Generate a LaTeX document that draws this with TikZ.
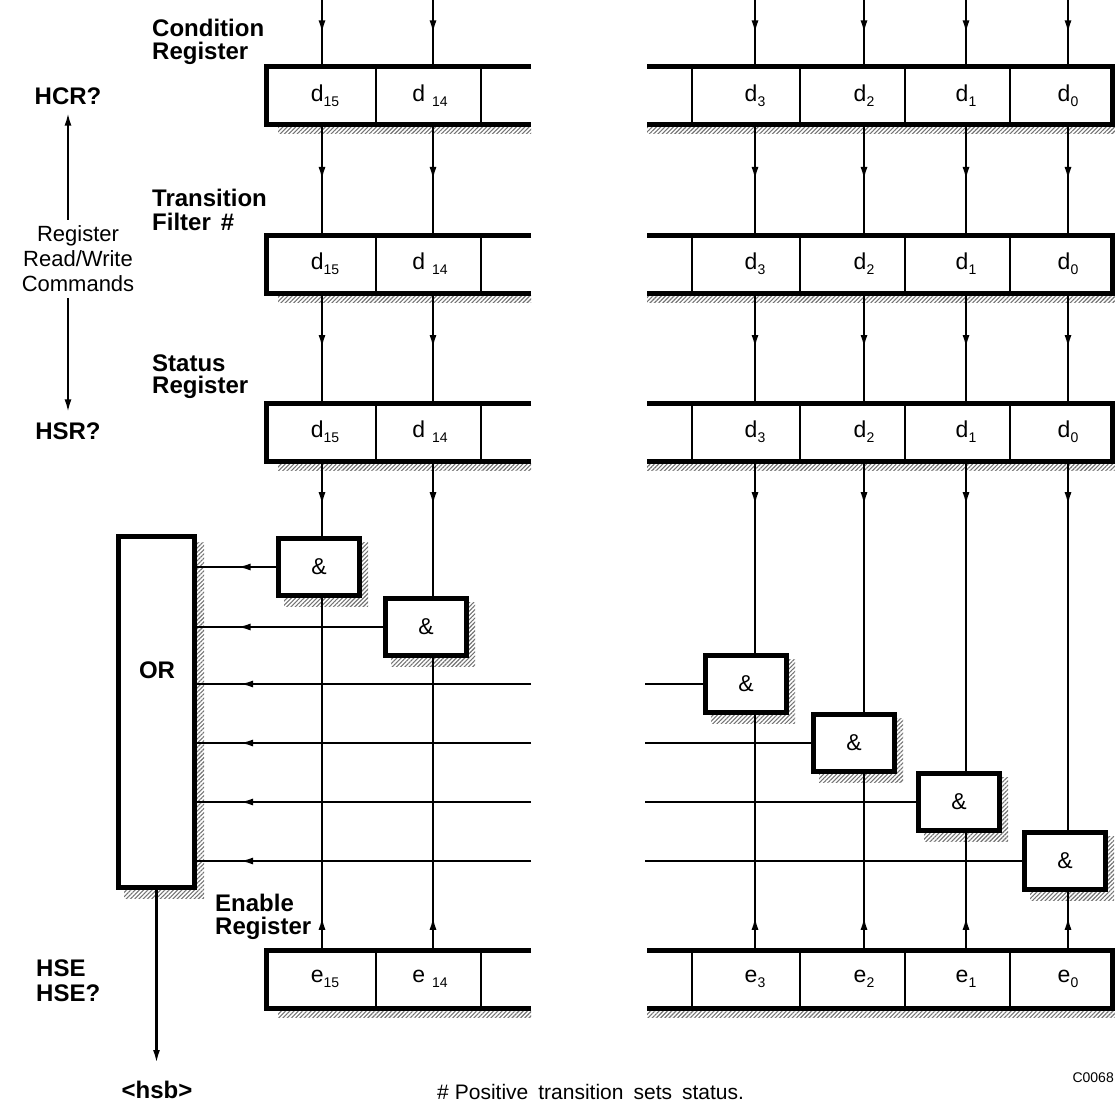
\documentclass[tikz,border=0pt]{standalone}
\usepackage{fontspec}
\setmainfont{Liberation Sans}
\usetikzlibrary{arrows.meta,patterns.meta,decorations.markings,calc}
\newcommand\rbit[2]{#1\raisebox{-5pt}{\fontsize{14}{14}\selectfont #2}}
\tikzset{
  frame/.style={line width=5pt, line join=miter},
  divider/.style={line width=2.5pt},
  wire/.style={line width=2.2pt},
  shadowfill/.style={pattern={Lines[angle=45,distance=3pt,line width=1.1pt]}, pattern color=black!55},
  cell/.style={minimum height=58pt, minimum width=40pt, inner sep=0pt, font=\fontsize{23}{23}\selectfont},
  gate/.style={draw, line width=5pt, fill=white, minimum width=81pt, minimum height=57pt, inner sep=0pt, font=\fontsize{23}{23}\selectfont},
  orbox/.style={draw, line width=5pt, fill=white, minimum width=76pt, minimum height=351pt, inner sep=0pt},
  lbl/.style={font=\fontsize{24}{26}\selectfont\bfseries, inner sep=0pt},
  plain/.style={font=\fontsize{22}{25}\selectfont, inner sep=0pt},
  arrowpos/.style={postaction={decorate}, decoration={markings, mark=at position #1 with {\arrow{Latex[length=13pt,width=7pt]}}}},
  tipend/.style={-{Latex[length=13pt,width=7pt]}},
}
\begin{document}
\begin{tikzpicture}[x=1pt,y=-1pt]
\useasboundingbox (0,0) rectangle (1115,1110);

% register frames with shadows
\foreach \c in {96,264,432,979} {
  \fill[shadowfill] (278,\c+31.5) rectangle (531,\c+38);
  \fill[shadowfill] (647,\c+31.5) rectangle (1115,\c+38);
  \draw[frame] (531,\c-29) -- (266,\c-29) -- (266,\c+29) -- (531,\c+29);
  \draw[frame] (647,\c-29) -- (1112,\c-29) -- (1112,\c+29) -- (647,\c+29);
  \foreach \d in {376,481,692,800,905,1010} \draw[divider] (\d,\c-29) -- (\d,\c+29);
}

% cells
\foreach \r/\c/\l in {cr/96/d, tf/264/d, sr/432/d, en/979/e} {
  \node[cell] (\r15) at (325,\c) {\rbit{\l}{15}};
  \node[cell] (\r14) at (430,\c) {\rbit{\l\hspace{7pt}}{14}};
  \node[cell] (\r3) at (755,\c) {\rbit{\l}{3}};
  \node[cell] (\r2) at (864,\c) {\rbit{\l}{2}};
  \node[cell] (\r1) at (966,\c) {\rbit{\l}{1}};
  \node[cell] (\r0) at (1068,\c) {\rbit{\l}{0}};
}
\foreach \b/\x in {15/322,14/433,3/755,2/864,1/966,0/1068} {
  \coordinate (top\b) at (\x,0);
}

% gates
\foreach \n/\x/\y in {1/319/567, 2/426/627, 3/746/684, 4/854/743, 5/959/802, 6/1065/861} {
  \fill[shadowfill] (\x-35,\y-25) rectangle (\x+49,\y+39);
  \node[gate] (g\n) at (\x,\y) {\&};
}

% OR box
\fill[shadowfill] (124,542) rectangle (204,898);
\node[orbox] (or) at (156.5,712) {};
\node[lbl] (ortxt) at (157,670) {OR};

% vertical wires
\foreach \b/\g in {15/1,14/2,3/3,2/4,1/5,0/6} {
  \draw[wire, arrowpos=0.5] (top\b) -- (top\b |- cr\b.north);
  \draw[wire, arrowpos=0.5] (top\b |- cr\b.south) -- (top\b |- tf\b.north);
  \draw[wire, arrowpos=0.5] (top\b |- tf\b.south) -- (top\b |- sr\b.north);
  \draw[wire, arrowpos=44pt] (top\b |- sr\b.south) -- (top\b |- g\g.north);
  \draw[wire, arrowpos=33pt] (top\b |- en\b.north) -- (top\b |- g\g.south);
}

% gate outputs
\coordinate (brkL) at (531,0);
\coordinate (brkR) at (645,0);
\draw[wire, arrowpos=38.5pt] (g1.west) -- (or.east |- g1.west);
\draw[wire, arrowpos=145.5pt] (g2.west) -- (or.east |- g2.west);
\foreach \g in {3,4,5,6} {
  \draw[wire] (g\g.west) -- (brkR |- g\g.west);
  \draw[wire, arrowpos=291pt] (brkL |- g\g.west) -- (or.east |- g\g.west);
}

% OR output
\coordinate (hsbtip) at (156.5,1063);
\draw[wire, tipend] (or.south) -- (hsbtip);
\node[lbl] (hsb) at (157,1090) {\textless hsb\textgreater};

% left labels
\node[lbl, anchor=west] (cond1) at (152,28) {Condition};
\node[lbl, anchor=west] (cond2) at (152,53) {Register};
\node[lbl, anchor=west] (tran1) at (152,198) {Transition};
\node[lbl, anchor=west] (tran2) at (152,222) {Filter\hspace{10pt}\#};
\node[lbl, anchor=west] (stat1) at (152,363) {Status};
\node[lbl, anchor=west] (stat2) at (152,387) {Register};
\node[lbl, anchor=west] (enab1) at (215,903) {Enable};
\node[lbl, anchor=west] (enab2) at (215,928) {Register};

\node[lbl] (hcr) at (68,96) {HCR?};
\node[lbl] (hsr) at (68,431) {HSR?};
\node[lbl, anchor=west] (hse1) at (36,968) {HSE};
\node[lbl, anchor=west] (hse2) at (36,993) {HSE?};

\node[plain, align=center] (rw) at (78,259) {Register\\Read/Write\\Commands};
\draw[wire, tipend, shorten <=6pt, shorten >=8pt] (rw.north -| hcr.south) -- (hcr.south);
\draw[wire, tipend, shorten <=6pt, shorten >=10pt] (rw.south -| hsr.north) -- (hsr.north);

% footnote
\node[inner sep=0pt, anchor=west, font=\fontsize{21}{21}\selectfont] (note) at (437,1092)
  {\spaceskip=10pt\relax \#\hspace{-4pt} Positive transition sets status.};
\node[inner sep=0pt, anchor=east, font=\fontsize{14}{14}\selectfont] (code) at (1114,1078) {C0068};
\end{tikzpicture}
\end{document}
